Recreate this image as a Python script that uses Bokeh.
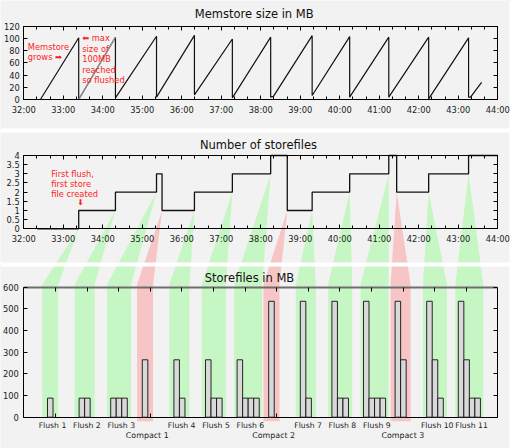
from bokeh.plotting import figure
from bokeh.models import Range1d, LinearAxis, FixedTicker, CustomJSTickFormatter, Label
from bokeh.core.properties import value
from bokeh.embed import file_html
from bokeh.resources import INLINE

# ---------------- data ----------------
# Memstore size (MB) over time (minutes)
mem_time = [32.34, 32.42, 33.39, 33.39, 34.32, 34.32, 35.36, 35.36, 36.32, 36.32,
            37.28, 37.28, 38.25, 38.25, 38.32, 39.30, 39.30, 40.25, 40.25, 41.24,
            41.24, 42.25, 42.25, 43.26, 43.26, 43.31, 43.59]
mem_mb = [0, 0, 101, 0, 102, 2.7, 103.5, 3.8, 105, 7.6,
          99, 2.7, 102, 3.8, 5, 104.5, 6.5, 103, 3.8, 102,
          3.8, 102, 1, 101, 3.8, 3.8, 28]

# Number of storefiles (step function)
sf_time = [32.34, 33.39, 34.32, 35.36, 35.50, 36.32, 37.28, 38.25, 38.67,
           39.30, 40.25, 41.24, 41.44, 42.25, 43.26, 44.0]
sf_count = [0, 1, 2, 3, 1, 2, 3, 4, 1, 2, 3, 4, 2, 3, 4, 4]

# Events (flushes / compactions)
events = ["Flush 1", "Flush 2", "Flush 3", "Compact 1", "Flush 4", "Flush 5",
          "Flush 6", "Compact 2", "Flush 7", "Flush 8", "Flush 9", "Compact 3",
          "Flush 10", "Flush 11"]
event_time = [33.39, 34.32, 35.36, 35.50, 36.32, 37.28, 38.25, 38.67,
              39.30, 40.25, 41.24, 41.44, 42.25, 43.26]
event_level = [0, 1, 2, 1, 1, 2, 3, 1, 1, 2, 3, 2, 2, 3]

# Storefile sizes (MB) after each event
storefile_mb = [[88], [88, 88], [88, 88, 88], [265], [265, 88], [265, 88, 88],
                [265, 88, 88, 88], [535], [535, 88], [535, 88, 88],
                [535, 88, 88, 88], [535, 265], [535, 265, 88], [535, 265, 88, 88]]

time_ticks = list(range(32, 45))
mem_ticks = [0, 20, 40, 60, 80, 100, 120]
count_ticks = [0, 0.5, 1, 1.5, 2, 2.5, 3, 3.5, 4]
mb_ticks = [0, 100, 200, 300, 400, 500, 600]

# ---------------- layout geometry (reference pixel space) ----------------
REF_W, REF_H = 512, 448
X0, X1 = 23.3, 497.3
T0, T1 = 32, 44
C0, C1 = -1, 14
P1 = (99.0, 25.7, 0, 120)
P2 = (228.3, 155.0, 0, 4)
P3 = (416.7, 286.7, 0, 600)
BAR_W = 0.175
BAR_OFF = 0.25

def xrange_for(v0, v1):
    b = (X1 - X0) / (v1 - v0)
    return Range1d(start=v0 - X0 / b, end=v0 + (REF_W - X0) / b)

def yrange_for(pb, pt, v0, v1):
    k = (v1 - v0) / (pb - pt)
    return Range1d(start=v0 + (pb - REF_H) * k, end=v0 + pb * k)

def gx_t(t):
    return X0 + (t - T0) * (X1 - X0) / (T1 - T0)

def gx_c(c):
    return X0 + (c - C0) * (X1 - X0) / (C1 - C0)

def gy_p2(v):
    return P2[0] - (v - P2[2]) * (P2[0] - P2[1]) / (P2[3] - P2[2])

FONT = "DejaVu Sans"

p = figure(width=512, height=448, x_range=Range1d(0, REF_W), y_range=Range1d(REF_H, 0),
           x_axis_type=None, y_axis_type=None, toolbar_location=None,
           output_backend="svg", min_border=0, background_fill_color="#f2f2f2",
           border_fill_color="white", outline_line_color=None)
p.extra_x_ranges = {"t": xrange_for(T0, T1), "c": xrange_for(C0, C1)}
p.extra_y_ranges = {"p1": yrange_for(*P1), "p2": yrange_for(*P2), "p3": yrange_for(*P3)}

# ---------------- connector bands ----------------
KNEE = 284.0
bxs, bys, bcol = [], [], []
group_center = []
for i, name in enumerate(events):
    n = len(storefile_mb[i])
    c = i - BAR_OFF + BAR_W * n / 2.0
    group_center.append(c)
    hw = (12 + 4 * n) / 2.0
    xc = gx_c(c)
    xl, xr = xc - hw, xc + hw
    ax_, ay_ = gx_t(event_time[i]), gy_p2(event_level[i])
    compact = name.startswith("Compact")
    yb = P3[0] + (4 if compact else 0)
    bxs.append([ax_, xr, xr, xl, xl])
    bys.append([ay_, KNEE, yb, yb, KNEE])
    bcol.append("#f7c5c5" if compact else "#c6f6c4")
p.patches(bxs, bys, fill_color=bcol, line_color=None, level="underlay")

# white separators
p.quad(left=[0, 0, 509], right=[REF_W, REF_W, REF_W], top=[128, 262, 0],
       bottom=[132, 266, REF_H], fill_color="white", line_color=None, level="underlay")

# ---------------- data glyphs ----------------
p.line(mem_time, mem_mb, x_range_name="t", y_range_name="p1",
       line_color="#111111", line_width=1.2)
# the second growth ramp is drawn lighter in the original
p.line(mem_time[3:5], mem_mb[3:5], x_range_name="t", y_range_name="p1",
       line_color="#9a9a9a", line_width=1.2)
p.step(sf_time, sf_count, mode="after", x_range_name="t", y_range_name="p2",
       line_color="#111111", line_width=1.3)

bl, br, bt = [], [], []
for i, vals in enumerate(storefile_mb):
    for j, v in enumerate(vals):
        left = i - BAR_OFF + BAR_W * j
        bl.append(left)
        br.append(left + BAR_W)
        bt.append(v)
p.quad(left=bl, right=br, bottom=0, top=bt, x_range_name="c", y_range_name="p3",
       fill_color="#d9d9d9", line_color="#111111", line_width=0.9, level="annotation")

# ---------------- axes ----------------
def add_axis(side, rng, fixed, ticks, minor=None, code="return ''", args=None,
             bounds=None, tick_len=4, minor_len=3, line_color="#000000",
             line_width=1, standoff=4, size=8.3):
    if side in ("below", "above"):
        ax = LinearAxis(x_range_name=rng, fixed_location=fixed)
    else:
        ax = LinearAxis(y_range_name=rng, fixed_location=fixed)
    ax.ticker = FixedTicker(ticks=ticks, minor_ticks=minor or [])
    ax.formatter = CustomJSTickFormatter(args=args or {}, code=code)
    if bounds is not None:
        ax.bounds = bounds
    ax.major_tick_in = tick_len
    ax.major_tick_out = 0
    ax.minor_tick_in = minor_len
    ax.minor_tick_out = 0
    ax.axis_line_color = line_color
    ax.axis_line_width = line_width
    ax.major_tick_line_color = "#000000"
    ax.minor_tick_line_color = "#000000"
    ax.major_label_standoff = standoff
    ax.major_label_text_font = FONT
    ax.major_label_text_font_size = f"{size}px"
    ax.major_label_text_color = "#222222"
    p.add_layout(ax, side)
    return ax

time_fmt = "return Math.round(tick) + ':00'"
num_fmt = "return String(tick)"
time_minor = [T0 + k / 3.0 for k in range(0, 37)]

for (pb, pt, v0, v1), rng, yt in ((P1, "p1", mem_ticks), (P2, "p2", count_ticks)):
    add_axis("below", "t", pb, time_ticks, time_minor, time_fmt, bounds=(T0, T1), standoff=5)
    add_axis("above", "t", pt, time_ticks, time_minor, bounds=(T0, T1))
    add_axis("left", rng, X0, yt, code=num_fmt, bounds=(v0, v1), standoff=4)
    add_axis("right", rng, X1, yt, bounds=(v0, v1))

cat_ticks = list(range(len(events)))
add_axis("left", "p3", X0, mb_ticks, code=num_fmt, bounds=(0, 600), standoff=5)
add_axis("right", "p3", X1, mb_ticks, bounds=(0, 600))
add_axis("above", "c", P3[1], cat_ticks, bounds=(C0, C1), line_color="#6e6e6e", line_width=2)
add_axis("below", "c", P3[0], cat_ticks, bounds=(C0, C1))

# event labels under each group of bars (two rows: flushes / compactions)
LABEL_SHIFT = 0.07
fl_x = [group_center[i] + LABEL_SHIFT for i, e in enumerate(events) if e.startswith("Flush")]
fl_t = [e for e in events if e.startswith("Flush")]
cp_x = [group_center[i] + LABEL_SHIFT for i, e in enumerate(events) if e.startswith("Compact")]
cp_t = [e for e in events if e.startswith("Compact")]
p.text(x=fl_x, y=[425.0] * len(fl_x), text=fl_t, x_range_name="c",
       text_align="center", text_baseline="middle", text_font=value(FONT),
       text_font_size="7.7px", text_color="#222222")
p.text(x=cp_x, y=[434.5] * len(cp_x), text=cp_t, x_range_name="c",
       text_align="center", text_baseline="middle", text_font=value(FONT),
       text_font_size="7.9px", text_color="#222222")

# ---------------- titles & notes ----------------
def label(x, y, text, size, color="#111111", align="center"):
    p.add_layout(Label(x=x, y=y, text=text, text_align=align, text_baseline="middle",
                       text_font=FONT, text_font_size=f"{size}px", text_color=color))

label(253.7, 13.3, "Memstore size in MB", 11.5)
label(258.0, 144.5, "Number of storefiles", 11.5)
label(249.0, 277.5, "Storefiles in MB", 11.5)

RED = "#ff1c1c"
for y, t in ((46.0, "Memstore"), (56.7, "grows ➡")):
    label(27.3, y, t, 8.3, RED, "left")
for y, t in ((37.5, "⬅ max"), (48.0, "size of"), (58.8, "100MB"), (69.0, "reached"),
             (79.2, "so flushed")):
    label(81.7, y, t, 8.3, RED, "left")
for y, t in ((173.0, "First flush,"), (183.3, "first store"), (193.2, "file created")):
    label(50.7, y, t, 8.3, RED, "left")
label(80.0, 202.0, "⬇", 7.8, RED)

open("out.html", "w").write(file_html(p, INLINE))
